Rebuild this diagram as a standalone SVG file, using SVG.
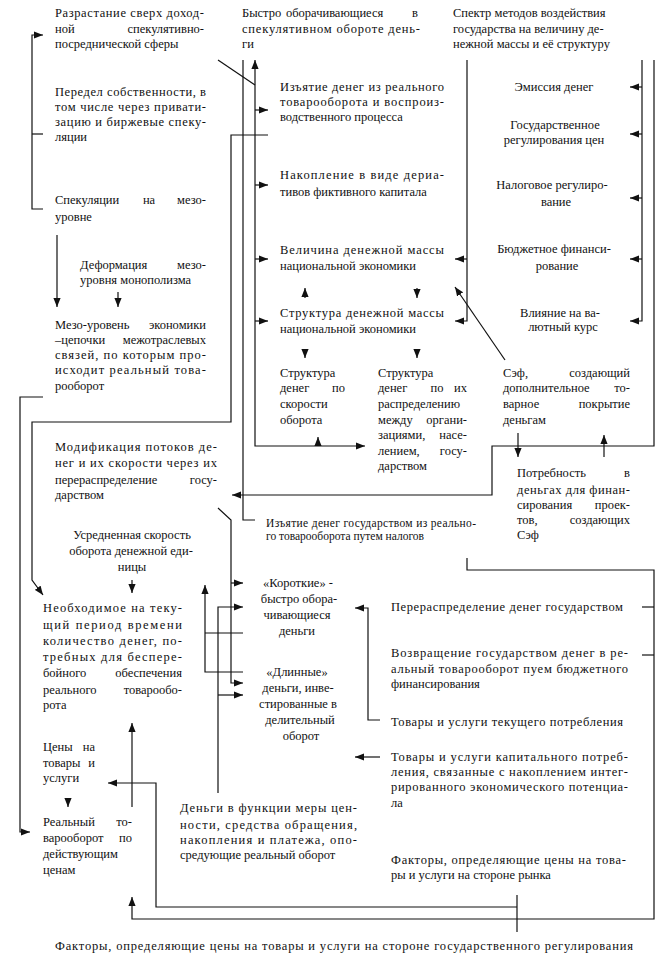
<svg xmlns="http://www.w3.org/2000/svg" width="664" height="957" viewBox="0 0 664 957">
<style>
text{font-family:"Liberation Serif","Tinos","Times New Roman","DejaVu Serif",serif;font-size:12.5px;fill:#111}
.s{font-size:11.5px}
.c{text-anchor:middle}
.e{text-anchor:end}
.ln{fill:none;stroke:#111;stroke-width:1.2}
.a{marker-end:url(#ah)}
.b{marker-start:url(#ah)}
</style>
<defs>
<marker id="ah" viewBox="0 0 10 8" refX="10" refY="4" markerWidth="9" markerHeight="8" markerUnits="userSpaceOnUse" orient="auto-start-reverse"><path d="M0,0 L10,4 L0,8 z" fill="#111"/></marker>
</defs>
<rect width="664" height="957" fill="#fff"/>

<g id="connectors">
<path class="ln a" d="M43,209 H32 V35 H43"/>
<path class="ln" d="M32,134 H43"/>
<path class="ln a" d="M57,235 V307"/>
<path class="ln a" d="M118,292 V307"/>
<path class="ln a" d="M43,397 H20 V832 H30"/>
<path class="ln a" d="M268,135 H231 V422 H32 V580 L43,595"/>
<path class="ln" d="M218,60 L255,85"/>
<path class="ln a b" d="M255,60 V446 H365"/>
<path class="ln a" d="M255,110 H268"/>
<path class="ln a" d="M255,185 H268"/>
<path class="ln a" d="M255,259 H268"/>
<path class="ln a" d="M255,321 H268"/>
<path class="ln" d="M243,60 V520 H255"/>
<path class="ln a" d="M467,60 V321 H455"/>
<path class="ln a" d="M467,259 H455"/>
<path class="ln a" d="M642,60 V321 H630"/>
<path class="ln a" d="M642,87 H630"/>
<path class="ln a" d="M642,134 H630"/>
<path class="ln a" d="M642,198 H630"/>
<path class="ln a" d="M642,259 H630"/>
<path class="ln a" d="M654,60 V446 H492 V495 H232"/>
<path class="ln a" d="M505,360 L455,287"/>
<path class="ln a" d="M518,433 V457"/>
<path class="ln a" d="M604,457 V435"/>
<path class="ln a" d="M305,298 V288"/>
<path class="ln a" d="M417,288 V298"/>
<path class="ln a" d="M305,349 V358"/>
<path class="ln a" d="M417,349 V358"/>
<path class="ln a" d="M318,446 V437"/>
<path class="ln a" d="M132,580 V593"/>
<path class="ln a" d="M132,807 V723"/>
<path class="ln a" d="M68,798 V807"/>
<path class="ln" d="M517,895 V932"/>
<path class="ln a" d="M517,907 H156 V783 H108"/>
<path class="ln a" d="M467,558 V570 H654 V919 H132 V897"/>
<path class="ln" d="M642,607 H654"/>
<path class="ln" d="M642,655 H654"/>
<path class="ln a" d="M380,720 H368 V608 H355"/>
<path class="ln a" d="M380,757 H355"/>
<path class="ln a" d="M218,508 L231,520 V683 H243"/>
<path class="ln a" d="M231,583 H243"/>
<path class="ln a" d="M218,793 V607 H243"/>
<path class="ln a" d="M218,695 H243"/>
<path class="ln a" d="M243,672 H205 V585"/>
<path class="ln" d="M205,633 H243"/>
</g>

<g id="n-razrastanie">
<text x="55" y="17" textLength="149" lengthAdjust="spacing">Разрастание сверх доход-</text>
<text x="55" y="33">ной</text><text class="e" x="204" y="33">спекулятивно-</text>
<text x="55" y="48">посреднической сферы</text>
</g>
<g id="n-peredel">
<text x="55" y="96" textLength="151" lengthAdjust="spacing">Передел собственности, в</text>
<text x="55" y="111" textLength="151" lengthAdjust="spacing">том числе через привати-</text>
<text x="55" y="126" textLength="151" lengthAdjust="spacing">зацию и биржевые спеку-</text>
<text x="55" y="141">ляции</text>
</g>
<g id="n-spekulyacii">
<text x="55" y="204">Спекуляции</text><text class="c" x="149" y="204">на</text><text class="e" x="206" y="204">мезо-</text>
<text x="55" y="221">уровне</text>
</g>
<g id="n-deformaciya">
<text x="80" y="269">Деформация</text><text class="e" x="206" y="269">мезо-</text>
<text x="80" y="284">уровня монополизма</text>
</g>
<g id="n-mezo">
<text x="55" y="329">Мезо-уровень</text><text class="e" x="206" y="329">экономики</text>
<text x="55" y="344">–цепочки</text><text class="e" x="206" y="344">межотраслевых</text>
<text x="55" y="359" textLength="151" lengthAdjust="spacing">связей, по которым про-</text>
<text x="55" y="374" textLength="151" lengthAdjust="spacing">исходит реальный това-</text>
<text x="55" y="390">рооборот</text>
</g>
<g id="n-modifikaciya">
<text x="55" y="451" textLength="162" lengthAdjust="spacing">Модификация потоков де-</text>
<text x="55" y="467" textLength="162" lengthAdjust="spacing">нег и их скорости через их</text>
<text x="55" y="484">перераспределение</text><text class="e" x="217" y="484">госу-</text>
<text x="55" y="499">дарством</text>
</g>
<g id="n-usrednennaya">
<text class="c" x="132" y="539">Усредненная скорость</text>
<text class="c" x="131" y="555">оборота денежной еди-</text>
<text class="c" x="132" y="571">ницы</text>
</g>
<g id="n-neobhodimoe">
<text x="43" y="612" textLength="139" lengthAdjust="spacing">Необходимое на теку-</text>
<text x="43" y="629" textLength="139" lengthAdjust="spacing">щий период времени</text>
<text x="43" y="645" textLength="139" lengthAdjust="spacing">количество денег, по-</text>
<text x="43" y="661" textLength="139" lengthAdjust="spacing">требных для беспере-</text>
<text x="43" y="677">бойного</text><text class="e" x="182" y="677">обеспечения</text>
<text x="43" y="694">реального</text><text class="e" x="182" y="694">товарообо-</text>
<text x="43" y="709">рота</text>
</g>
<g id="n-ceny">
<text x="43" y="751">Цены</text><text class="e" x="95" y="751">на</text>
<text x="43" y="767">товары</text><text class="e" x="95" y="767">и</text>
<text x="43" y="782">услуги</text>
</g>
<g id="n-realnyj">
<text x="43" y="826">Реальный</text><text class="e" x="132" y="826">то-</text>
<text x="43" y="842">варооборот</text><text class="e" x="132" y="842">по</text>
<text x="43" y="858">действующим</text>
<text x="43" y="874">ценам</text>
</g>

<g id="n-bystro">
<text x="242" y="17">Быстро</text><text x="286" y="17">оборачивающиеся</text><text class="e" x="418" y="17">в</text>
<text x="242" y="33" textLength="178" lengthAdjust="spacing">спекулятивном обороте день-</text>
<text x="242" y="48">ги</text>
</g>
<g id="n-izyatie">
<text x="280" y="91" textLength="164" lengthAdjust="spacing">Изъятие денег из реального</text>
<text x="280" y="106" textLength="164" lengthAdjust="spacing">товарооборота и воспроиз-</text>
<text x="280" y="121">водственного процесса</text>
</g>
<g id="n-nakoplenie">
<text x="280" y="179" textLength="164" lengthAdjust="spacing">Накопление в виде дериа-</text>
<text x="280" y="196">тивов фиктивного капитала</text>
</g>
<g id="n-velichina">
<text x="280" y="254" textLength="164" lengthAdjust="spacing">Величина денежной массы</text>
<text x="280" y="270">национальной экономики</text>
</g>
<g id="n-struktura-massy">
<text x="280" y="317" textLength="164" lengthAdjust="spacing">Структура денежной массы</text>
<text x="280" y="333">национальной экономики</text>
</g>
<g id="n-struktura-skorosti">
<text x="280" y="377">Структура</text>
<text x="280" y="392">денег</text><text class="e" x="345" y="392">по</text>
<text x="280" y="408">скорости</text>
<text x="280" y="424">оборота</text>
</g>
<g id="n-struktura-raspred">
<text x="378" y="377">Структура</text>
<text x="378" y="392">денег</text><text class="c" x="437" y="392">по</text><text class="e" x="467" y="392">их</text>
<text x="378" y="408">распределению</text>
<text x="378" y="424">между</text><text class="e" x="467" y="424">органи-</text>
<text x="378" y="439">зациями,</text><text class="e" x="467" y="439">насе-</text>
<text x="378" y="455">лением,</text><text class="e" x="467" y="455">госу-</text>
<text x="378" y="470">дарством</text>
</g>
<g id="n-sef">
<text x="503" y="377">Сэф,</text><text class="e" x="630" y="377">создающий</text>
<text x="503" y="392">дополнительное</text><text class="e" x="630" y="392">то-</text>
<text x="503" y="408">варное</text><text class="e" x="630" y="408">покрытие</text>
<text x="503" y="424">деньгам</text>
</g>
<g id="n-potrebnost">
<text x="517" y="477">Потребность</text><text class="e" x="630" y="477">в</text>
<text x="517" y="494" textLength="113" lengthAdjust="spacing">деньгах для финан-</text>
<text x="517" y="509">сирования</text><text class="e" x="630" y="509">проек-</text>
<text x="517" y="524">тов,</text><text class="e" x="630" y="524">создающих</text>
<text x="517" y="539">Сэф</text>
</g>
<g id="n-izyatie-gos">
<text class="s" x="266" y="527" textLength="210" lengthAdjust="spacing">Изъятие денег государством из реально-</text>
<text class="s" x="266" y="540">го товарооборота путем налогов</text>
</g>
<g id="n-korotkie">
<text class="c" x="298" y="587">«Короткие» -</text>
<text class="c" x="299" y="603">быстро обора-</text>
<text class="c" x="297" y="619">чивающиеся</text>
<text class="c" x="297" y="635">деньги</text>
</g>
<g id="n-dlinnye">
<text class="c" x="297" y="676">«Длинные»</text>
<text class="c" x="298" y="692">деньги, инве-</text>
<text class="c" x="298" y="708">стированные в</text>
<text class="c" x="300" y="724">делительный</text>
<text class="c" x="301" y="740">оборот</text>
</g>
<g id="n-dengi-funkcii">
<text x="180" y="812" textLength="177" lengthAdjust="spacing">Деньги в функции меры цен-</text>
<text x="180" y="829" textLength="177" lengthAdjust="spacing">ности, средства обращения,</text>
<text x="180" y="844" textLength="177" lengthAdjust="spacing">накопления и платежа, опо-</text>
<text x="180" y="859">средующие реальный оборот</text>
</g>

<g id="n-spektr">
<text x="453" y="17">Спектр методов воздействия</text>
<text x="453" y="33">государства на величину де-</text>
<text x="453" y="48">нежной массы и её структуру</text>
</g>
<g id="n-emissiya"><text class="c" x="554" y="91">Эмиссия денег</text></g>
<g id="n-gosreg">
<text class="c" x="555" y="129">Государственное</text>
<text class="c" x="554" y="144">регулирования цен</text>
</g>
<g id="n-nalog">
<text class="c" x="552" y="189">Налоговое регулиро-</text>
<text class="c" x="556" y="206">вание</text>
</g>
<g id="n-byudzhet">
<text class="c" x="554" y="253">Бюджетное финанси-</text>
<text class="c" x="557" y="270">рование</text>
</g>
<g id="n-valyuta">
<text class="c" x="560" y="317">Влияние на ва-</text>
<text class="c" x="563" y="331">лютный курс</text>
</g>
<g id="n-pereraspred">
<text x="391" y="611" textLength="232" lengthAdjust="spacing">Перераспределение денег государством</text>
</g>
<g id="n-vozvrashchenie">
<text x="391" y="657" textLength="237" lengthAdjust="spacing">Возвращение государством денег в ре-</text>
<text x="391" y="673" textLength="237" lengthAdjust="spacing">альный товарооборот пуем бюджетного</text>
<text x="391" y="688">финансирования</text>
</g>
<g id="n-tekushchee">
<text x="391" y="726" textLength="232" lengthAdjust="spacing">Товары и услуги текущего потребления</text>
</g>
<g id="n-kapitalnoe">
<text x="391" y="761" textLength="237" lengthAdjust="spacing">Товары и услуги капитального потреб-</text>
<text x="391" y="776" textLength="237" lengthAdjust="spacing">ления, связанные с накоплением интег-</text>
<text x="391" y="791" textLength="237" lengthAdjust="spacing">рированного экономического потенциа-</text>
<text x="391" y="807">ла</text>
</g>
<g id="n-faktory-rynok">
<text x="391" y="864" textLength="235" lengthAdjust="spacing">Факторы, определяющие цены на това-</text>
<text x="391" y="879">ры и услуги на стороне рынка</text>
</g>
<g id="n-faktory-gos">
<text x="55" y="950" textLength="578" lengthAdjust="spacing">Факторы, определяющие цены на товары и услуги на стороне государственного регулирования</text>
</g>
</svg>
